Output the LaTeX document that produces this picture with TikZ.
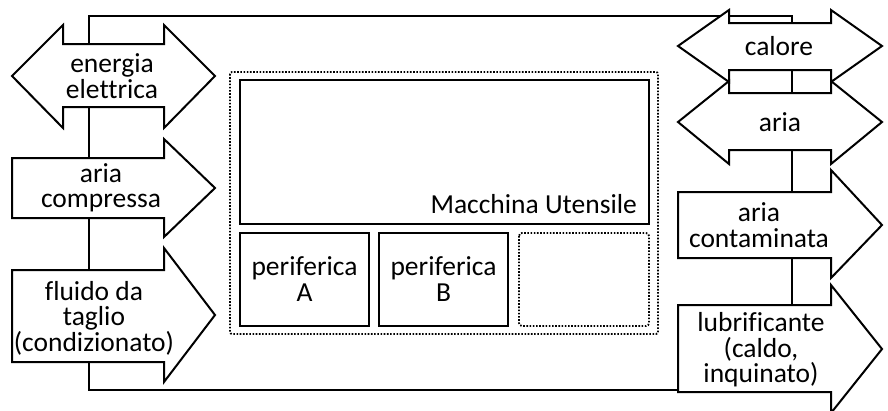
\documentclass[tikz,border=0pt]{standalone}
\usepackage{fontspec}
\setmainfont[Ligatures={NoCommon}]{Carlito}
\begin{document}
\begin{tikzpicture}[x=1pt,y=-1pt,
  arr/.style={draw, fill=white, line width=2pt, line join=miter},
  conn/.style={draw, line width=2pt},
  box/.style={draw, line width=2.2pt},
  dotbox/.style={draw, line width=1.8pt, dash pattern=on 1.6pt off 1.6pt, rounded corners=3pt},
  lbl/.style={font=\fontsize{27.5}{25.5}\selectfont, align=center, inner sep=0pt}]
\useasboundingbox (0,0) rectangle (888,410);
% connector loop (drawn below the arrows)
\coordinate (c1) at (678,390);
\coordinate (c2) at (89,390);
\coordinate (c3) at (89,16);
\coordinate (c4) at (792,16);
\coordinate (c5) at (792,330);
\draw[conn] (c1) -- (c2) -- (c3) -- (c4) -- (c5);
% left column
\draw[arr] (12,76) -- (63,25) -- (63,44) -- (164,44) -- (164,25) -- (215,76) -- (164,128) -- (164,107) -- (63,107) -- (63,128) -- cycle;
\node[lbl] (energia) at (112,76) {energia\\elettrica};
\draw[arr] (12,158) -- (164,158) -- (164,139) -- (215,188) -- (164,237) -- (164,218) -- (12,218) -- cycle;
\node[lbl] (ariacomp) at (101,188) {aria\\compressa};
\draw[arr] (12,270) -- (164,270) -- (164,248) -- (215,315) -- (164,382) -- (164,362) -- (12,362) -- cycle;
\node[lbl] (fluido) at (94,318) {fluido da\\taglio\\(condizionato)};
% right column
\draw[arr] (678,46) -- (729,10) -- (729,23) -- (831,23) -- (831,10) -- (882,46) -- (831,82) -- (831,70) -- (729,70) -- (729,82) -- cycle;
\node[lbl] (calore) at (779,46) {calore};
\draw[arr] (678,122) -- (729,81) -- (729,93) -- (831,93) -- (831,81) -- (882,122) -- (831,164) -- (831,150) -- (729,150) -- (729,164) -- cycle;
\node[lbl] (aria) at (780,122) {aria};
\draw[arr] (678,192) -- (831,192) -- (831,170) -- (882,225) -- (831,278) -- (831,258) -- (678,258) -- cycle;
\node[lbl] (ariacont) at (759,225) {aria\\contaminata};
\draw[arr] (678,305) -- (831,305) -- (831,285) -- (882,349) -- (831,413) -- (831,392) -- (678,392) -- cycle;
\node[lbl] (lubri) at (761,350) {lubrificante\\(caldo,\\inquinato)};
% centre block
\draw[dotbox, rounded corners=2pt] (230,72) rectangle (658,334);
\node[box, minimum width=409pt, minimum height=144pt, inner sep=0pt] (macchina) at (444.5,152) {};
\node[lbl, anchor=base east] (maclbl) at (637,213) {Macchina Utensile};
\node[box, minimum width=129pt, minimum height=93pt, inner sep=0pt] (perA) at (304.5,279.5) {};
\node[lbl] (perAl) at (304.5,279) {periferica\\A};
\node[box, minimum width=129pt, minimum height=93pt, inner sep=0pt] (perB) at (443.5,279.5) {};
\node[lbl] (perBl) at (443.5,279) {periferica\\B};
\draw[dotbox] (519,233) rectangle (649,326);
\end{tikzpicture}
\end{document}
